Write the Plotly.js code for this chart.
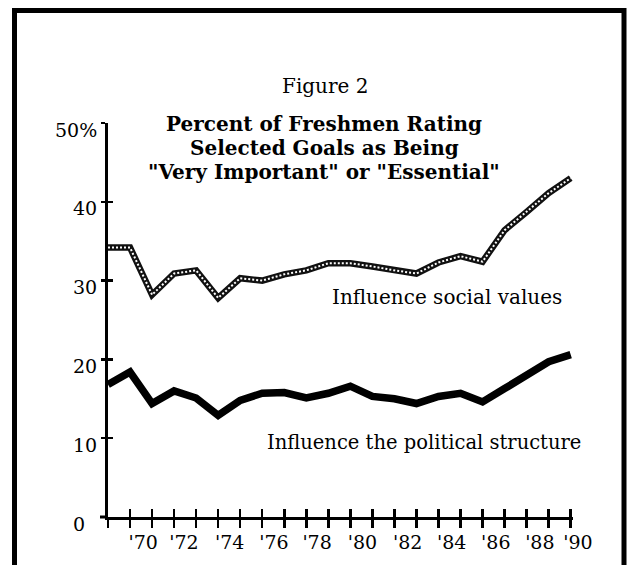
<!DOCTYPE html>
<html>
<head>
<meta charset="utf-8">
<script src="https://cdn.plot.ly/plotly-3.0.1.min.js"></script>
<style>html,body{margin:0;padding:0;background:#fff;}#chart{width:629px;height:565px;}</style>
</head>
<body>
<div id="chart"></div>
<script>
// Survey years (one point per tick on the x axis)
var years = [1968,1969,1970,1971,1972,1973,1974,1975,1976,1977,1978,1979,1980,1981,1982,1983,1984,1985,1986,1987,1988,1989];
// Percent rating "Influence social values" as very important / essential
var socialValues = [34.2,34.2,28.2,30.9,31.3,27.8,30.3,30.0,30.8,31.3,32.2,32.2,31.8,31.3,30.9,32.3,33.1,32.4,36.4,38.7,41.1,43.0];
// Percent rating "Influence the political structure"
var politicalStructure = [16.8,18.4,14.4,16.0,15.1,12.9,14.8,15.7,15.8,15.1,15.7,16.6,15.3,15.0,14.4,15.3,15.7,14.6,16.3,18.0,19.7,20.6];
// x tick labels as printed, and where they sit along the axis
var xLabelText = ["'70","'72","'74","'76","'78","'80","'82","'84","'86","'88","'90"];
var xLabelPos = [1969.6,1971.45,1973.52,1975.53,1977.49,1979.55,1981.6,1983.6,1985.6,1987.6,1989.33];
// y tick values and labels
var yTickVals = [0,10,20,30,40,50];
var yTickText = ["0\u00a0\u00a0","10","20","30","40","50%"];
// titles
var figLabel = "Figure 2";
var titleLines = ["Percent of Freshmen Rating", "Selected Goals as Being", "\"Very Important\" or \"Essential\""];
var seriesLabels = ["Influence social values", "Influence the political structure"];

var FONT = "DejaVu Serif, Liberation Serif, serif";
var xRange = [1968, 1989.1];
var yRange = [0, 50];

// plot-area geometry helpers (pixels -> paper)
var L = 100, R = 40, T = 123, B = 48, W = 629, H = 565;
var pw = W - L - R, ph = H - T - B;
function px(x) { return (x - L) / pw; }
function py(y) { return (H - B - y) / ph; }
var axisStartPx = 108, axisEndPx = 572.9;
var xDomain = [px(axisStartPx), px(axisEndPx)];
var pxPerYear = (axisEndPx - axisStartPx) / (xRange[1] - xRange[0]);
// the label axis is wider than the drawn axis so the last label ('90) fits, same scale
var x3Domain = [xDomain[0], 1];
var x3Range = [xRange[0], xRange[0] + (W - R - axisStartPx) / pxPerYear];

var traces = [
  {x: years, y: socialValues, mode: 'lines', line: {color: '#111111', width: 6.5}, hoverinfo: 'skip', showlegend: false},
  {x: years, y: socialValues, mode: 'lines', line: {color: '#ffffff', width: 2, dash: '2px,2px'}, hoverinfo: 'skip', showlegend: false},
  {x: years, y: politicalStructure, mode: 'lines', line: {color: '#000000', width: 7.5}, hoverinfo: 'skip', showlegend: false},
  {x: [], y: [], xaxis: 'x2', yaxis: 'y2', showlegend: false},
  {x: [], y: [], xaxis: 'x3', yaxis: 'y', showlegend: false}
];

var annotations = [
  {x: px(325), y: py(86), xref: 'paper', yref: 'paper', text: figLabel, showarrow: false,
   xanchor: 'center', yanchor: 'middle', font: {family: FONT, size: 20, color: '#000'}}
];
var titleY = [124, 148, 172];
titleLines.forEach(function (t, i) {
  annotations.push({x: px(324), y: py(titleY[i]), xref: 'paper', yref: 'paper', text: '<b>' + t + '</b>',
    showarrow: false, xanchor: 'center', yanchor: 'middle', font: {family: FONT, size: 20, color: '#000'}});
});
annotations.push({x: px(447), y: py(297), xref: 'paper', yref: 'paper', text: seriesLabels[0], showarrow: false,
  xanchor: 'center', yanchor: 'middle', font: {family: FONT, size: 20, color: '#000'}});
annotations.push({x: px(424), y: py(442), xref: 'paper', yref: 'paper', text: seriesLabels[1], showarrow: false,
  xanchor: 'center', yanchor: 'middle', font: {family: FONT, size: 19.5, color: '#000'}});

var layout = {
  width: W, height: H,
  margin: {l: L, r: R, t: T, b: B},
  paper_bgcolor: '#ffffff', plot_bgcolor: 'rgba(0,0,0,0)',
  font: {family: FONT, color: '#000', size: 19},
  showlegend: false,
  xaxis: {
    domain: xDomain, range: xRange, showgrid: false, zeroline: false,
    showline: true, linecolor: '#000', linewidth: 3,
    tickmode: 'array', tickvals: years, ticks: 'outside', ticklen: 8, tickwidth: 2.5, tickcolor: '#000',
    showticklabels: false
  },
  xaxis2: {
    domain: xDomain, range: xRange, overlaying: 'x', anchor: 'y', side: 'bottom', showgrid: false, zeroline: false, showline: false,
    tickmode: 'array', tickvals: years, ticks: 'inside', ticklen: 8, tickwidth: 2.5, tickcolor: '#000',
    showticklabels: false
  },
  xaxis3: {
    domain: x3Domain, range: x3Range, anchor: 'y', side: 'bottom', showgrid: false, zeroline: false, showline: false,
    tickmode: 'array', tickvals: xLabelPos, ticktext: xLabelText,
    ticks: '', tickangle: 0, ticklabelstandoff: 12, tickfont: {family: FONT, size: 19, color: '#000'}
  },
  yaxis: {
    range: yRange, anchor: 'x', showgrid: false, zeroline: false,
    showline: true, linecolor: '#000', linewidth: 3,
    tickmode: 'array', tickvals: yTickVals, ticktext: yTickText,
    ticks: 'outside', ticklen: 4, tickwidth: 2.5, tickcolor: '#000',
    ticklabelshift: 7, ticklabelstandoff: 0,
    tickfont: {family: FONT, size: 19, color: '#000'}
  },
  yaxis2: {
    range: yRange, overlaying: 'y', anchor: 'x', showgrid: false, zeroline: false, showline: false,
    tickmode: 'array', tickvals: yTickVals, ticks: 'inside', ticklen: 5, tickwidth: 2.5, tickcolor: '#000',
    showticklabels: false
  },
  annotations: annotations,
  shapes: [
    // short stub of the x axis line running left past the y axis
    {type: 'line', xref: 'paper', yref: 'paper', x0: 0, x1: xDomain[0], y0: 0, y1: 0,
     line: {color: '#000', width: 3}},
    // frame around the figure
    {type: 'rect', xref: 'paper', yref: 'paper',
     x0: px(14.5), x1: px(624), y0: py(620), y1: py(10.5),
     line: {color: '#000', width: 5}, fillcolor: 'rgba(0,0,0,0)', layer: 'above'}
  ]
};

Plotly.newPlot('chart', traces, layout, {staticPlot: true, displayModeBar: false});
</script>
</body>
</html>
